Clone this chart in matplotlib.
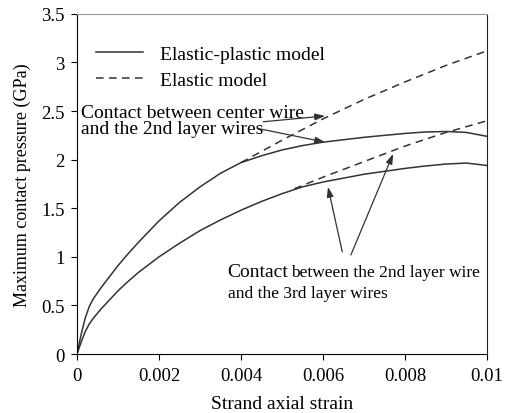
import matplotlib.pyplot as plt

plt.rcParams['font.family'] = ['Liberation Serif', 'DejaVu Serif']

# strain points for elastic-plastic curves
strain = [0, 0.0001, 0.0002, 0.0003, 0.0004, 0.0005, 0.0006, 0.0008, 0.001,
          0.0012, 0.0015, 0.002, 0.0025, 0.003, 0.0035, 0.004, 0.0045, 0.005,
          0.0055, 0.006, 0.007, 0.008, 0.0085, 0.009, 0.0095, 0.01]
# center wire vs 2nd layer wires
center_ep = [0, 0.20, 0.37, 0.49, 0.57, 0.63, 0.69, 0.80, 0.91,
             1.01, 1.15, 1.37, 1.56, 1.72, 1.86, 1.97, 2.04, 2.10,
             2.145, 2.18, 2.23, 2.27, 2.285, 2.29, 2.28, 2.24]
# 2nd layer wire vs 3rd layer wires
layer_ep = [0, 0.12, 0.23, 0.31, 0.37, 0.42, 0.47, 0.56, 0.65,
            0.73, 0.84, 1.00, 1.14, 1.27, 1.38, 1.48, 1.57, 1.65,
            1.72, 1.77, 1.85, 1.91, 1.935, 1.955, 1.965, 1.94]

# elastic model branches
strain_el_c = [0.004, 0.005, 0.006, 0.007, 0.008, 0.009, 0.01]
center_el = [1.97, 2.20, 2.42, 2.62, 2.80, 2.97, 3.12]
strain_el_l = [0.0053, 0.006, 0.007, 0.008, 0.009, 0.01]
layer_el = [1.70, 1.82, 1.98, 2.14, 2.28, 2.40]

fig = plt.figure(figsize=(5.1, 4.14), dpi=100)
ax = fig.add_axes([0.151, 0.1425, 0.804, 0.8215])

lc = '#333333'
dash = (0, (5, 3.5))
ax.plot(strain, center_ep, color=lc, lw=1.1, label='Elastic-plastic model')
ax.plot(strain_el_c, center_el, color=lc, lw=1.1, ls=dash, label='Elastic model')
ax.plot(strain, layer_ep, color=lc, lw=1.1)
ax.plot(strain_el_l, layer_el, color=lc, lw=1.1, ls=dash)

ax.set_xlim(0, 0.01)
ax.set_ylim(0, 3.5)
ax.set_xticks([0, 0.002, 0.004, 0.006, 0.008, 0.01])
ax.set_xticklabels(['0', '0.002', '0.004', '0.006', '0.008', '0.01'])
ax.set_yticks([0, 0.5, 1, 1.5, 2, 2.5, 3, 3.5])
ax.set_yticklabels(['0', '0.5', '1', '1.5', '2', '2.5', '3', '3.5'])
ax.tick_params(direction='out', length=4, width=0.8, labelsize=13.5, pad=5)
ax.spines['top'].set_color('#999999')
ax.spines['right'].set_color('#222222')

ax.set_xlabel('Strand axial strain', fontsize=14, labelpad=8.5)
ax.set_ylabel('Maximum contact pressure (GPa)', fontsize=13, labelpad=7)

ax.legend(loc='upper left', bbox_to_anchor=(0.046, 0.907), frameon=False,
          fontsize=14, handlelength=2.4, handletextpad=0.9, labelspacing=0.4,
          borderpad=0, borderaxespad=0)

# annotations
ax.text(0.0001, 2.435, 'Contact between center wire', fontsize=14,
        va='baseline', ha='left')
ax.text(0.0001, 2.27, 'and the 2nd layer wires', fontsize=14,
        va='baseline', ha='left')
arr = dict(arrowstyle='-|>,head_length=0.6,head_width=0.2', color=lc, lw=0.9,
           shrinkA=0, shrinkB=0)
ax.annotate('', xy=(0.00605, 2.45), xytext=(0.00454, 2.39), arrowprops=arr)
ax.annotate('', xy=(0.00605, 2.18), xytext=(0.00442, 2.32), arrowprops=arr)
ax.annotate('', xy=(0.00612, 1.72), xytext=(0.00647, 1.05), arrowprops=arr)
ax.annotate('', xy=(0.00771, 2.06), xytext=(0.00668, 1.02), arrowprops=arr)

ax.text(0.00366, 0.80, 'Contact', fontsize=14, va='baseline', ha='left')
ax.text(0.00523, 0.80, 'between the 2nd layer wire', fontsize=12.5,
        va='baseline', ha='left')
ax.text(0.00368, 0.585, 'and the 3rd layer wires', fontsize=12.5,
        va='baseline', ha='left')

fig.savefig('out.png', dpi=100)
